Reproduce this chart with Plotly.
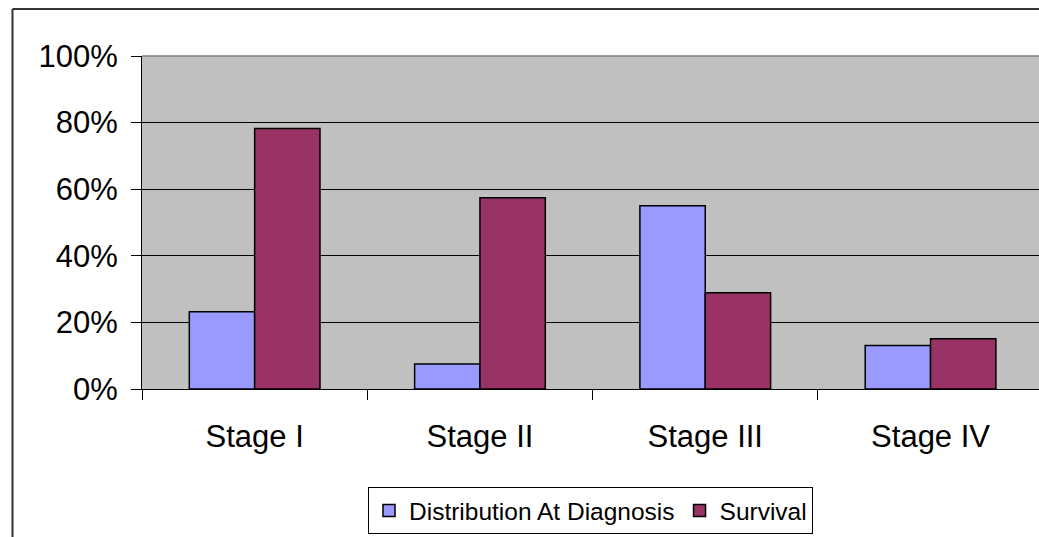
import plotly.graph_objects as go

categories = ["Stage I", "Stage II", "Stage III", "Stage IV"]
distribution = [0.232, 0.075, 0.55, 0.131]
survival = [0.782, 0.574, 0.289, 0.151]
y_ticks = [0, 0.2, 0.4, 0.6, 0.8, 1.0]
y_tick_labels = ["0%", "20%", "40%", "60%", "80%", "100%"]

W, H = 1039, 537
L, T = 142, 56
B = H - 389
plot_w = W - L
plot_h = H - T - B
cat_w = 225.3

fig = go.Figure()
fig.add_trace(go.Bar(
    name="Distribution At Diagnosis", x=categories, y=distribution,
    marker=dict(color="#9999FF", line=dict(color="black", width=1.5)),
))
fig.add_trace(go.Bar(
    name="Survival", x=categories, y=survival,
    marker=dict(color="#993366", line=dict(color="black", width=1.5)),
))

bx = 12.5   # outer chart border x
by = 9      # outer chart border y

fig.update_layout(
    width=W, height=H,
    margin=dict(l=L, r=0, t=T, b=B, pad=0),
    paper_bgcolor="white",
    plot_bgcolor="#C0C0C0",
    barmode="group",
    bargap=0.42,
    bargroupgap=0,
    font=dict(family="Liberation Sans, Arial, sans-serif", color="black"),
    showlegend=True,
    legend=dict(
        orientation="h", x=0.5, xanchor="center",
        y=(389 - 487) / plot_h, yanchor="top",
        font=dict(size=24.5, color="black"),
        bordercolor="black", borderwidth=1, bgcolor="white",
        traceorder="normal",
    ),
    xaxis=dict(
        range=[-0.5, -0.5 + plot_w / cat_w],
        showline=True, linecolor="black", linewidth=1,
        ticks="outside", ticklen=10, tickcolor="black", tickwidth=1,
        tickson="boundaries",
        tickfont=dict(size=31, color="black"),
        ticklabelstandoff=20,
        showgrid=False, zeroline=False,
    ),
    yaxis=dict(
        range=[0, 1.0], tickvals=y_ticks, ticktext=y_tick_labels,
        showline=True, linecolor="black", linewidth=1,
        ticks="outside", ticklen=10, tickcolor="black", tickwidth=1,
        tickfont=dict(size=31, color="black"),
        ticklabelstandoff=7,
        showgrid=True, gridcolor="black", gridwidth=1,
        zeroline=False,
    ),
    shapes=[
        # outer chart-area border (left and top visible)
        dict(type="line", xref="paper", yref="paper",
             x0=(bx - L) / plot_w, x1=(W + 5 - L) / plot_w,
             y0=(H - B - by) / plot_h, y1=(H - B - by) / plot_h,
             line=dict(color="#333333", width=2)),
        dict(type="line", xref="paper", yref="paper",
             x0=(bx - L) / plot_w, x1=(bx - L) / plot_w,
             y0=(H - B - by) / plot_h, y1=-(B + 5) / plot_h,
             line=dict(color="#333333", width=2)),
        # plot-area top border
        dict(type="line", xref="paper", yref="paper",
             x0=0, x1=1, y0=1, y1=1,
             line=dict(color="#808080", width=1.5)),
    ],
)

fig.write_html(
    "out.html",
    config={"displayModeBar": False},
    post_script="document.body.style.margin='0';document.body.style.overflow='hidden';",
)
